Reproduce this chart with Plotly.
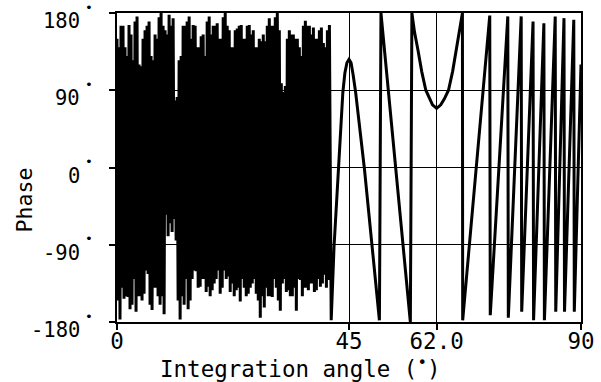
import numpy as np
import plotly.graph_objects as go

# ---- data ----
# dense, rapidly wrapping region (0 - 41.2 deg).
# outer tips (top / bottom edges of the black mass) and inner strokes between them
dense_high = [150, 165, 140, 166, 125, 176, 118, 160, 170, 125, 150, 180, 160, 178, 174, 82,
              130, 165, 176, 166, 140, 153, 130, 176, 165, 168, 150, 180, 160, 140, 162, 166,
              150, 166, 160, 140, 147, 147, 174, 165, 180, 98, 95, 160, 155, 150, 130, 171,
              165, 163, 150, 163, 140, 166]
dense_inner_low = [-155, -140, -150, -165, -130, -150, -155, -120, -160, -140, -150, -150, -55,
                   -65, -60, -155, -150, -130, -155, -120, -140, -130, -145, -150, -135, -120,
                   -140, -130, -145, -150, -140, -130, -150, -140, -130, -155, -150, -140, -150,
                   -130, -155, -135, -145, -150, -140, -130, -150, -140, -135, -145, -130, -135,
                   -140]
dense_inner_high = [140, 165, 130, 155, 170, 120, 150, 165, 130, 155, 175, 165, 155, 165, 78,
                    125, 165, 170, 150, 165, 140, 155, 170, 155, 165, 150, 175, 165, 140, 160,
                    165, 150, 165, 155, 140, 150, 155, 165, 165, 175, 160, 88, 150, 155, 150,
                    140, 165, 165, 155, 150, 160, 145, 160]
dense_low = [-177, -153, -151, -160, -168, -150, -147, -124, -166, -140, -160, -171, -80, -75,
             -85, -177, -160, -165, -130, -121, -139, -130, -139, -143, -130, -147, -120, -127,
             -135, -143, -156, -140, -147, -135, -147, -175, -163, -150, -151, -140, -167, -130,
             -143, -150, -167, -131, -140, -143, -135, -143, -139, -125, -131]
dense_start, dense_end = 0.0, 41.2

# smooth / sawtooth region (41.5 - 90 deg)
right_angle = [41.55, 42.1, 42.97, 43.8, 44.2, 44.6, 45.0, 45.4, 45.8, 46.3, 48.0, 49.5, 50.9,
               51.2, 56.9, 57.2, 57.7, 58.4, 59.1, 59.9, 60.6, 61.2, 62.0, 62.8, 63.5, 64.3,
               65.1, 65.8, 66.4, 67.0, 67.05, 72.3, 72.4, 75.8, 75.9, 78.4, 78.5, 80.7, 80.8,
               82.8, 82.9, 85.0, 85.1, 86.7, 86.8, 88.6, 88.7, 90.0]
right_phase = [-178, -92, 0, 87, 110, 122, 126, 122, 108, 87, -2, -92, -178,
               180, -180, 180, 158, 136, 112, 90, 80, 73, 69, 73, 80, 90,
               112, 136, 158, 180, -178, 177, -172, 176, -175, 176, -168, 170, -178,
               168, -178, 176, -168, 174, -168, 172, -168, 120]

x_ticks = [0, 45, 62, 90]
x_ticktext = ["0", "45", "62.0", "90"]
y_ticks = [-180, -90, 0, 90, 180]
y_ticktext = ["-180", "-90", "0", "90", "180"]
y_min, y_max = -180, 180

# ---- build series ----
dense_phase = []
for i in range(len(dense_low)):
    dense_phase += [dense_high[i], dense_inner_low[i], dense_inner_high[i], dense_low[i]]
dense_phase.append(dense_high[-1])
dense_angle = list(np.linspace(dense_start, dense_end, len(dense_phase)))

angle = dense_angle + right_angle
phase = dense_phase + right_phase

FONT = "DejaVu Sans Mono"
PLOT_W = 464

fig = go.Figure()
fig.add_trace(go.Scatter(x=angle, y=phase, mode="lines",
                         line=dict(color="black", width=3), showlegend=False,
                         hoverinfo="skip"))

annotations = [
    dict(text="Phase", textangle=-90, xref="paper", yref="paper",
         x=(24 - 117) / PLOT_W, y=(322 - 200) / 310, xanchor="center", yanchor="middle",
         showarrow=False, font=dict(family=FONT, size=21.5, color="black")),
    dict(text="Integration angle (<sup>•</sup>)", xref="paper", yref="paper",
         x=(300 - 117) / PLOT_W, y=(322 - 368) / 310, xanchor="center", yanchor="middle",
         showarrow=False, font=dict(family=FONT, size=22.5, color="black")),
]
# y tick labels: number sits a little below its tick, a degree dot a little above
for v, t in zip(y_ticks, y_ticktext):
    yf = (v - y_min) / (y_max - y_min)
    annotations.append(dict(text=t, xref="paper", yref="paper", x=(82 - 117) / PLOT_W, y=yf,
                            xanchor="right", yanchor="middle", yshift=-8, showarrow=False,
                            font=dict(family=FONT, size=20.5, color="black")))
    annotations.append(dict(text="•", xref="paper", yref="paper", x=(89 - 117) / PLOT_W, y=yf,
                            xanchor="center", yanchor="middle", yshift=6, showarrow=False,
                            font=dict(family=FONT, size=13, color="black")))

fig.update_layout(
    width=601, height=382,
    margin=dict(l=117, r=20, t=13, b=60),
    paper_bgcolor="white", plot_bgcolor="white",
    xaxis=dict(range=[0, 90], tickvals=x_ticks, ticktext=x_ticktext, automargin=False,
               ticks="outside", ticklen=6, tickwidth=1.5, tickcolor="black",
               showgrid=True, gridcolor="black", gridwidth=1.3,
               showline=True, linecolor="black", linewidth=2, mirror=True,
               zeroline=False, ticklabelstandoff=-8, ticklabeloverflow="allow",
               tickfont=dict(family=FONT, size=22.5, color="black")),
    yaxis=dict(range=[y_min, y_max], tickvals=y_ticks, automargin=False,
               showticklabels=False,
               ticks="outside", ticklen=6, tickwidth=1.5, tickcolor="black",
               showgrid=True, gridcolor="black", gridwidth=1.3,
               showline=True, linecolor="black", linewidth=2, mirror=True,
               zeroline=False),
    annotations=annotations,
)

fig.write_html("out.html", post_script="document.body.style.margin='0';",
               config={"displayModeBar": False})
